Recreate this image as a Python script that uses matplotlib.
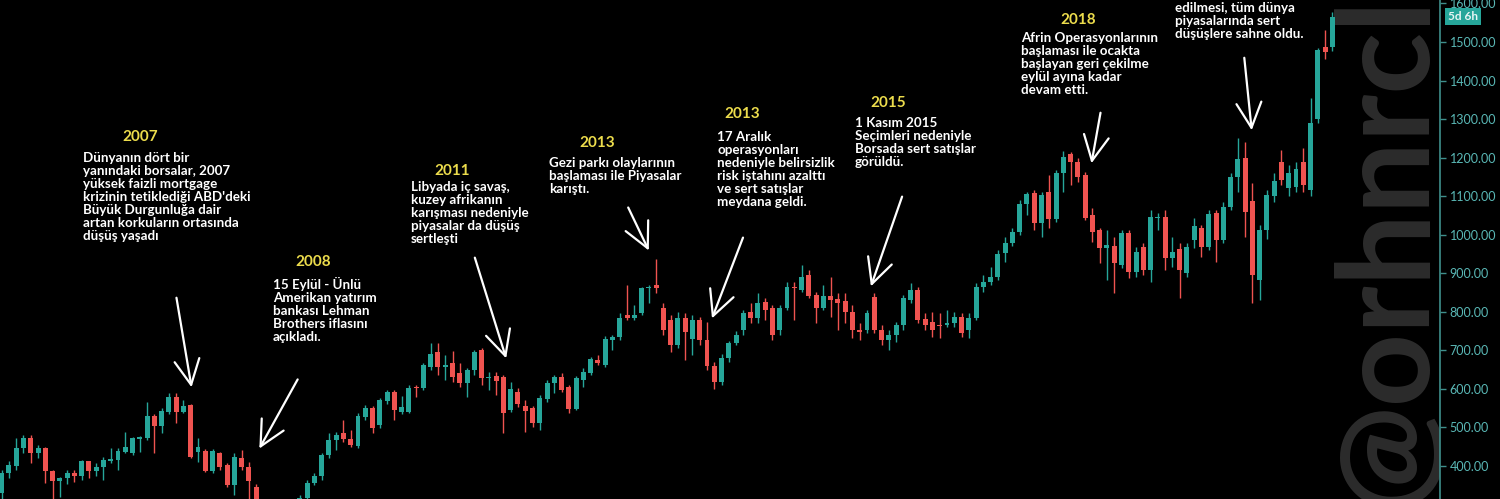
import matplotlib
matplotlib.use("Agg")
import matplotlib.pyplot as plt
import numpy as np

# ---- data (monthly candles) ----
opens = [
    330, 382, 400, 447, 473, 434, 447, 388, 360, 368,     # 0
    381, 374, 413, 387, 397, 413, 416, 436, 434, 471,     # 10
    473, 530, 504, 540, 579, 540, 558, 436, 439, 387,     # 20
    434, 403, 351, 421, 397, 346, 290, 240, 250, 270,     # 30
    260, 290, 318, 356, 374, 429, 467, 486, 470, 452,     # 40
    527, 550, 506, 569, 592, 540, 540, 605, 602, 657,     # 50
    696, 657, 667, 641, 615, 649, 701, 628, 633, 631,     # 60
    545, 592, 556, 550, 512, 574, 615, 631, 605, 548,     # 70
    623, 641, 675, 662, 727, 735, 792, 784, 797, 862,     # 80
    870, 810, 779, 714, 784, 730, 779, 727, 660, 618,     # 90
    680, 720, 753, 800, 784, 825, 810, 753, 810, 864,     # 100
    857, 895, 844, 810, 841, 833, 828, 800, 753, 753,     # 110
    838, 753, 727, 740, 766, 831, 857, 781, 774, 766,     # 120
    766, 771, 787, 753, 784, 864, 877, 890, 953, 978,     # 130
    1007, 1080, 1108, 1030, 1111, 1041, 1160, 1209, 1189, 1155,  # 140
    1051, 1012, 965, 971, 921, 1004, 903, 968, 908, 1043,        # 150
    1046, 940, 963, 901, 986, 1017, 968, 1056, 986, 1072,        # 160
    1150, 1199, 1087, 882, 1012, 1100, 1190, 1120, 1125, 1190,   # 170
    1116, 1300, 1487, 1487]                                      # 180
highs = [
    390, 413, 473, 480, 480, 454, 449, 390, 371, 390,
    390, 416, 413, 408, 423, 447, 447, 488, 475, 478,
    566, 535, 550, 589, 589, 571, 561, 473, 444, 444,
    436, 408, 434, 441, 410, 353, 300, 270, 280, 290,
    300, 325, 364, 382, 434, 486, 488, 519, 493, 537,
    558, 556, 576, 597, 597, 582, 610, 610, 667, 719,
    719, 688, 698, 667, 654, 701, 706, 644, 644, 636,
    618, 602, 571, 556, 584, 623, 636, 641, 610, 633,
    654, 683, 688, 737, 740, 797, 870, 818, 864, 870,
    937, 823, 792, 800, 797, 792, 787, 774, 670, 690,
    725, 750, 805, 823, 849, 836, 818, 818, 877, 877,
    921, 908, 851, 870, 890, 849, 849, 818, 771, 805,
    849, 766, 753, 774, 844, 875, 864, 797, 800, 797,
    805, 800, 797, 797, 875, 895, 916, 960, 994, 1017,
    1090, 1111, 1116, 1111, 1155, 1168, 1217, 1215, 1199, 1163,
    1069, 1017, 1012, 994, 1012, 1012, 968, 978, 1064, 1056,
    1064, 994, 978, 978, 1043, 1025, 1064, 1064, 1085, 1160,
    1251, 1240, 1134, 1025, 1116, 1160, 1220, 1180, 1190, 1225,
    1355, 1485, 1531, 1578]
lows = [
    290, 369, 390, 434, 408, 421, 356, 314, 320, 353,
    358, 364, 369, 374, 364, 408, 390, 434, 429, 436,
    467, 434, 486, 535, 512, 537, 421, 410, 384, 382,
    390, 346, 325, 390, 314, 250, 220, 210, 230, 240,
    240, 280, 300, 351, 364, 421, 441, 462, 449, 447,
    519, 486, 499, 561, 519, 535, 537, 579, 597, 649,
    636, 623, 618, 605, 579, 636, 610, 597, 584, 486,
    540, 553, 488, 501, 493, 566, 589, 592, 537, 545,
    605, 636, 662, 657, 701, 727, 779, 779, 792, 823,
    849, 740, 696, 706, 675, 688, 714, 650, 600, 610,
    670, 715, 740, 771, 771, 779, 727, 740, 805, 779,
    851, 836, 771, 805, 787, 753, 771, 732, 727, 745,
    745, 714, 701, 722, 753, 823, 771, 753, 735, 732,
    761, 761, 735, 732, 779, 851, 870, 882, 929, 971,
    999, 1051, 1012, 994, 1017, 1033, 1111, 1129, 1137, 1038,
    981, 927, 882, 849, 914, 888, 890, 895, 877, 1012,
    908, 916, 836, 890, 965, 942, 960, 929, 978, 1064,
    1111, 994, 823, 831, 990, 1085, 1130, 1100, 1110, 1110,
    1100, 1290, 1455, 1477]
closes = [
    382, 403, 447, 473, 434, 447, 388, 362, 368, 381,
    374, 413, 387, 397, 416, 418, 439, 449, 473, 474,
    530, 504, 543, 579, 540, 556, 423, 449, 387, 439,
    397, 351, 423, 397, 361, 290, 240, 250, 270, 260,
    290, 318, 356, 374, 429, 467, 480, 470, 454, 530,
    550, 499, 571, 592, 545, 553, 602, 602, 662, 691,
    657, 662, 631, 615, 649, 696, 628, 631, 620, 537,
    600, 561, 543, 512, 576, 615, 631, 597, 548, 628,
    644, 678, 667, 729, 735, 784, 784, 792, 862, 864,
    862, 753, 714, 784, 748, 779, 727, 660, 618, 680,
    720, 740, 797, 784, 823, 805, 740, 810, 864, 862,
    890, 841, 810, 841, 831, 823, 800, 753, 748, 797,
    753, 727, 740, 766, 836, 857, 779, 766, 753, 763,
    771, 787, 745, 784, 864, 877, 890, 950, 978, 1007,
    1080, 1106, 1030, 1103, 1041, 1160, 1202, 1189, 1150, 1043,
    1007, 965, 973, 927, 1004, 903, 955, 908, 1046, 1046,
    940, 955, 908, 968, 1023, 968, 1054, 986, 1072, 1150,
    1196, 1059, 895, 1012, 1103, 1140, 1142, 1160, 1170, 1130,
    1290, 1479, 1474, 1565]

price_ticks = list(range(400, 1601, 100))

x = np.arange(len(opens))
o = np.array(opens, float); c = np.array(closes, float)
h = np.array(highs, float); l = np.array(lows, float)

UP = "#26a69a"; DOWN = "#ef5350"
colors = np.where(c >= o, UP, DOWN)

W, H = 1500, 499
fig = plt.figure(figsize=(W/100, H/100), dpi=100, facecolor="black")
ax = fig.add_axes([0, 0, 1440/W, 1])
ax.set_facecolor("black")

ax.vlines(x, l, h, colors=colors, linewidth=1.0, zorder=2)
ax.bar(x, np.maximum(np.abs(c - o), 2.5), bottom=np.minimum(o, c), width=0.68,
       color=colors, linewidth=0, zorder=3)

ax.set_xlim(-0.23, 197.8)
ax.set_ylim(314.4, 1609)
ax.yaxis.tick_right()
ax.set_yticks(price_ticks)
ax.set_yticklabels([f"{v:.2f}" for v in price_ticks], family="Lato")
ax.tick_params(axis="y", colors="#3f8f8c", labelcolor="#5ab8b6", length=4, width=1,
               labelsize=9, pad=3, direction="out")
ax.set_xticks([])
for s in ["top", "bottom", "left"]:
    ax.spines[s].set_visible(False)
ax.spines["right"].set_color("#3f8f8c")
ax.spines["right"].set_linewidth(1.2)

# watermark (behind the candles), clipped to the plot area
wm = ax.text(1424/W, 1 - 508/H, "@orhnrcl", rotation=90, rotation_mode="anchor",
             ha="left", va="baseline", transform=fig.transFigure, clip_on=True,
             fontsize=92, fontweight="bold", family="Lato", color="#2c2c2c", zorder=1)

# price label box
fig.text(1448/W, 1 - 16.5/H, "5d 6h", ha="left", va="center", fontsize=8.5, color="#e8f6f5",
         family="Lato", fontweight="bold",
         bbox=dict(boxstyle="square,pad=0.22", fc="#26a69a", ec="none"))

FONT = "Lato"
YEL = "#ecdc4c"

def fp(px, py):
    return (px / W, 1 - py / H)

notes = [
    ("2007", 140, 137, 83, 152,
     "Dünyanın dört bir\nyanındaki borsalar, 2007\nyüksek faizli mortgage\nkrizinin tetiklediği ABD'deki\nBüyük Durgunluğa dair\nartan korkuların ortasında\ndüşüş yaşadı",
     (176, 295), (192, 390)),
    ("2008", 313, 262, 273, 277,
     "15 Eylül - Ünlü\nAmerikan yatırım\nbankası Lehman\nBrothers iflasını\naçıkladı.",
     (299, 377), (258, 451)),
    ("2011", 452, 171, 411, 181,
     "Libyada iç savaş,\nkuzey afrikanın\nkarışması nedeniyle\npiyasalar da düşüş\nsertleşti",
     (474, 255), (507, 361)),
    ("2013", 597, 143, 549, 157,
     "Gezi parkı olaylarının\nbaşlaması ile Piyasalar\nkarıştı.",
     (627, 205), (650, 253)),
    ("2013", 742, 114, 717, 131,
     "17 Aralık\noperasyonları\nnedeniyle belirsizlik\nrisk iştahını azalttı\nve sert satışlar\nmeydana geldi.",
     (744, 235), (711, 321)),
    ("2015", 888, 103, 855, 117,
     "1 Kasım 2015\nSeçimleri nedeniyle\nBorsada sert satışlar\ngörüldü.",
     (903, 194), (870, 289)),
    ("2018", 1078, 20, 1021, 32,
     "Afrin Operasyonlarının\nbaşlaması ile ocakta\nbaşlayan geri çekilme\neylül ayına kadar\ndevam etti.",
     (1101, 110), (1091, 166)),
    ("2020", 1215, -32, 1175, -11,
     "Koronavirüsün Pandemi ilan\nedilmesi, tüm dünya\npiyasalarında sert\ndüşüşlere sahne oldu.",
     (1244, 55), (1252, 133)),
]

for yr, yx, yy, tx, ty, body, a0, a1 in notes:
    fig.text(*fp(yx, yy), yr, ha="center", va="center", color=YEL, fontsize=11,
             fontweight="bold", family=FONT)
    fig.text(*fp(tx, ty), body, ha="left", va="top", color="white", fontsize=9.6,
             fontweight="bold", family=FONT, linespacing=1.1)
    ax.annotate("", xy=fp(*a1), xytext=fp(*a0), xycoords="figure fraction",
                textcoords="figure fraction",
                arrowprops=dict(arrowstyle="->,head_length=0.9,head_width=0.45",
                                color="white", lw=1.6, mutation_scale=20))

fig.savefig("out.png", dpi=100, facecolor="black")
